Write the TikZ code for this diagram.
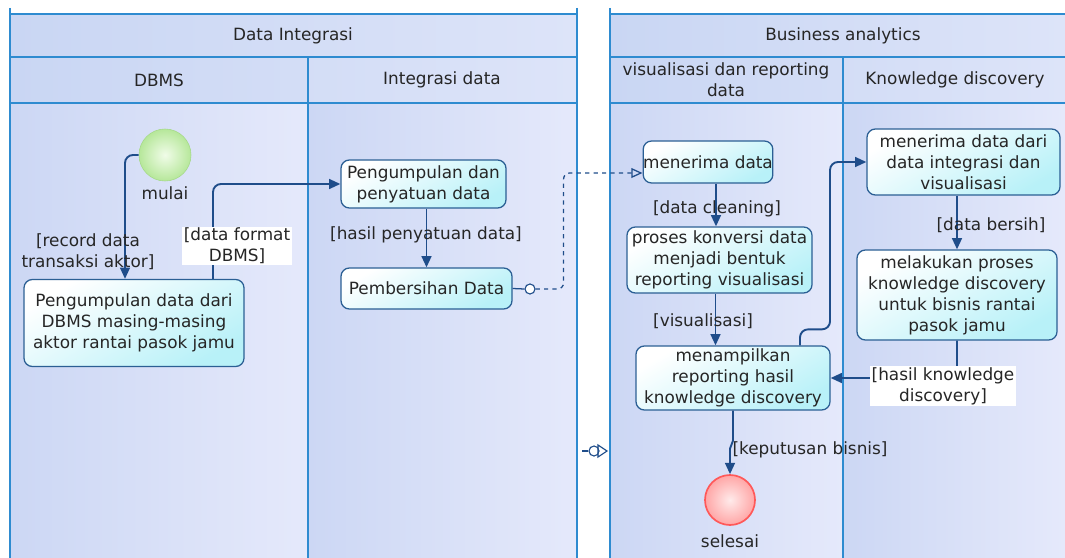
\documentclass[tikz,border=0pt]{standalone}
\usepackage{fontspec}
\setmainfont{DejaVu Sans}
\usetikzlibrary{arrows.meta}

\definecolor{poolline}{HTML}{2E8BD0}
\definecolor{headA}{HTML}{C9D6F3}
\definecolor{headB}{HTML}{DDE4F9}
\definecolor{laneA}{HTML}{CCD7F4}
\definecolor{laneB}{HTML}{E5E9FB}
\definecolor{actline}{HTML}{2B5F94}
\definecolor{actfill}{HTML}{B8F1F8}
\definecolor{flow}{HTML}{1F4D8A}
\definecolor{txt}{HTML}{262626}
\definecolor{startin}{HTML}{F0FCE8}
\definecolor{startout}{HTML}{B6E79A}
\definecolor{startline}{HTML}{A6D98A}

\begin{document}
\begin{tikzpicture}[x=0.025cm, y=-0.025cm, text=txt,
    font=\fontsize{12}{15}\selectfont,
    act/.style={draw=actline, line width=0.9pt, rounded corners=6pt,
      top color=white, bottom color=actfill, shading angle=30,
      align=center, inner sep=0pt},
    startnode/.style={circle, minimum size=1.3cm, draw=startline,
      inner color=startin, outer color=startout},
    endnode/.style={circle, minimum size=1.25cm, draw=red!65, line width=1.2pt,
      inner color=red!8, outer color=red!35},
    flowline/.style={draw=flow, line width=1.35pt, rounded corners=0.2cm,
      -{Triangle[length=8pt,width=7pt]}},
    guard/.style={align=center, inner sep=1pt},
    guardw/.style={guard, fill=white}]
    \useasboundingbox (0,0) rectangle (1065,558);

    % pools and lanes
    \shade[left color=headA, right color=headB] (10,14) rectangle (577,103);
    \shade[left color=laneA, right color=laneB] (10,103) rectangle (308,558);
    \shade[left color=laneA, right color=laneB] (308,103) rectangle (577,558);
    \shade[left color=headA, right color=headB] (610,14) rectangle (1065,103);
    \shade[left color=laneA, right color=laneB] (610,103) rectangle (843,558);
    \shade[left color=laneA, right color=laneB] (843,103) rectangle (1065,558);
    \draw[poolline, line width=1.2pt]
      (10,8) -- (10,558) (577,8) -- (577,558) (308,57) -- (308,558)
      (10,14) -- (577,14) (10,57) -- (577,57) (10,103) -- (577,103)
      (610,8) -- (610,558) (843,57) -- (843,558)
      (610,14) -- (1065,14) (610,57) -- (1065,57) (610,103) -- (1065,103);

    \node (hDI) at (293,36) {Data Integrasi};
    \node (hDBMS) at (159,80) {DBMS};
    \node (hID) at (442,80) {Integrasi data};
    \node (hBA) at (843,36) {Business analytics};
    \node[align=center] (hVR) at (726,80) {visualisasi dan reporting\\data};
    \node (hKD) at (955,80) {Knowledge discovery};

    % nodes
    \node[startnode] (mulai) at (165,155) {};
    \node (mulaiT) at (165,193) {mulai};
    \node[act, minimum width=5.5cm, minimum height=2.175cm] (dbms) at (134,323)
      {Pengumpulan data dari\\DBMS masing-masing\\aktor rantai pasok jamu};
    \node[act, minimum width=4.125cm, minimum height=1.2cm] (kumpul) at (423.5,184)
      {Pengumpulan dan\\penyatuan data};
    \node[act, minimum width=4.275cm, minimum height=1.025cm] (bersih) at (426.5,288.5)
      {Pembersihan Data};
    \node[circle, draw=flow, line width=0.8pt, fill=white, minimum size=0.25cm,
      inner sep=0pt] (bcirc) at (530,289) {};
    \node[act, minimum width=3cm, minimum height=1.05cm] (terima) at (708,162)
      {menerima data};
    \node[act, minimum width=4.625cm, minimum height=1.65cm] (konversi) at (719.5,260)
      {proses konversi data\\menjadi bentuk\\reporting visualisasi};
    \node[act, minimum width=4.85cm, minimum height=1.6cm] (tampil) at (733,378)
      {menampilkan\\reporting hasil\\knowledge discovery};
    \node[act, minimum width=4.825cm, minimum height=1.65cm] (terimadari) at (963.5,162)
      {menerima data dari\\data integrasi dan\\visualisasi};
    \node[act, minimum width=5cm, minimum height=2.25cm] (kd) at (957,295)
      {melakukan proses\\knowledge discovery\\untuk bisnis rantai\\pasok jamu};
    \node[endnode] (selesai) at (730,500) {};
    \node (selesaiT) at (730,541) {selesai};

    % flows
    \draw[flowline] (mulai.west) -| ([xshift=-0.225cm]dbms.north);
    \draw[flowline] ([xshift=1.975cm]dbms.north) |- (kumpul.west);
    \draw[flowline] (bersih.north |- kumpul.south) -- (bersih.north);
    \draw[flow, line width=0.9pt] (bersih.east) -- (bcirc.west);
    \draw[flow, line width=0.9pt, dashed, rounded corners=0.15cm,
      -{Triangle[open,length=8pt,width=7pt]}]
      (bcirc.east) -- ++(28,0) |- ([yshift=-0.275cm]terima.west);
    \draw[flowline] ([xshift=0.2cm]terima.south) -- ([xshift=0.2cm]terima.south |- konversi.north);
    \draw[flowline] ([xshift=-0.1cm]konversi.south) -- ([xshift=-0.1cm]konversi.south |- tampil.north);
    \draw[flowline] ([xshift=1.675cm]tampil.north) -- ++(0,-16) -- ++(30,0) |- (terimadari.west);
    \draw[flowline] (kd.north |- terimadari.south) -- (kd.north);
    \draw[flowline] (kd.south) |- (tampil.east);
    \draw[flowline, rounded corners=0pt] (tampil.south) -- ++(0,30) -- ++(-3,8) -- (selesai.north);

    % stub between the pools
    \coordinate (stubL) at (582,451);
    \node[circle, draw=flow, line width=0.8pt, minimum size=0.25cm, inner sep=0pt] (stubC) at (594,451) {};
    \draw[flow, line width=0.8pt] (stubL) -- (stubC.west);
    \draw[flow, line width=0.8pt] (stubC.center) ++(4,-6) -- ++(9,6) -- ++(-9,6) -- cycle;

    % guards
    \node[guard] (gRec) at (88,252) {[record data\\transaksi aktor]};
    \node[guardw] (gFmt) at (237,246) {[data format\\DBMS]};
    \node[guard] (gHasil) at (426,235) {[hasil penyatuan data]};
    \node[guard] (gClean) at (717,209) {[data cleaning]};
    \node[guard] (gVis) at (703,321) {[visualisasi]};
    \node[guard] (gBersih) at (991,225) {[data bersih]};
    \node[guardw] (gKD) at (943,386) {[hasil knowledge\\discovery]};
    \node[guard] (gBisnis) at (810,450) {[keputusan bisnis]};
\end{tikzpicture}
\end{document}
